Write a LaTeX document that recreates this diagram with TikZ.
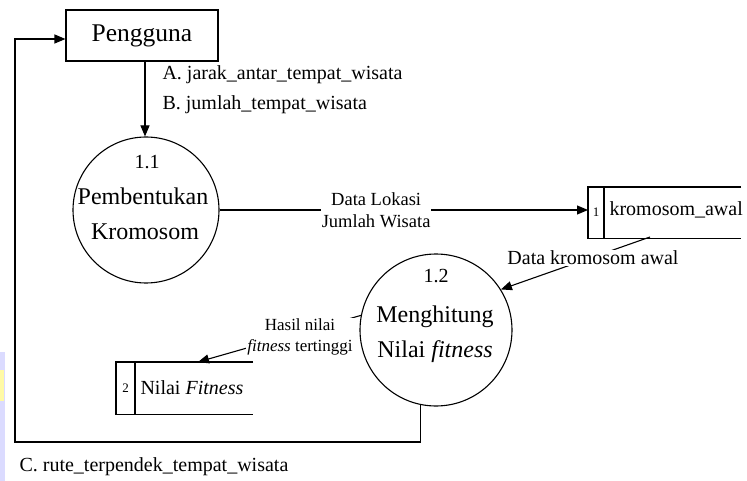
\documentclass[tikz,border=0pt]{standalone}
\usepackage{fontspec}
\setmainfont{Liberation Serif}
\usetikzlibrary{arrows.meta}
\newcommand{\fs}[1]{\fontsize{#1}{#1}\selectfont}
\begin{document}
\begin{tikzpicture}[x=1pt,y=-1pt,
  line width=1.1pt,
  flow/.style={-{Triangle[length=11pt,width=9pt]}},
  ent/.style={draw,minimum width=152pt,minimum height=51pt,inner sep=0pt},
  proc/.style={draw,circle,inner sep=0pt},
  big/.style={font=\fs{24}},
  small/.style={font=\fs{20}},
  lbl/.style={font=\fs{18.5},fill=white,inner sep=1pt,align=center},
  tiny/.style={font=\fs{13}},
  storeframe/.style={inner sep=0pt,anchor=north west}]
\useasboundingbox[fill=white] (0,0) rectangle (747,481);

% faint strip along the left margin
\fill[blue!14] (0,352) rectangle (4.5,481);
\fill[yellow!35] (0,370) rectangle (4,401);

% external entity
\node[ent,font=\fs{25.5}] (peng) at (142,35.5) {Pengguna};

% process 1.1
\node[proc,minimum size=146pt] (c1) at (146,210) {};
\node[font=\fs{20}] (c1n) at (147,162) {1.1};
\node[big] (c1a) at (143,196) {Pembentukan};
\node[big] (c1b) at (145,232) {Kromosom};

% process 1.2
\node[proc,minimum size=152pt] (c2) at (436,330) {};
\node[font=\fs{20}] (c2n) at (436,276) {1.2};
\node[big] (c2a) at (435,317) {Menghitung};
\node[big] (c2b) at (435,352) {Nilai \textit{fitness}};

% data store 1
\node[storeframe,minimum width=152pt,minimum height=50pt] (s1) at (588,187) {};
\draw (s1.north east) -- (s1.north west) -- (s1.south west) -- (s1.south east);
\draw ([xshift=16pt]s1.north west) -- ([xshift=16pt]s1.south west);
\node[tiny] (s1n) at (596,212) {1};
\node[small,anchor=west,inner sep=0pt] (s1t) at (609,210) {kromosom\_awal};

% data store 2
\node[storeframe,minimum width=136pt,minimum height=51pt] (s2) at (116,362) {};
\draw (s2.north east) -- (s2.north west) -- (s2.south west) -- (s2.south east);
\draw ([xshift=19pt]s2.north west) -- ([xshift=19pt]s2.south west);
\node[tiny] (s2n) at (125.5,388) {2};
\node[small,anchor=west,inner sep=0pt] (s2t) at (140,388) {Nilai \textit{Fitness}};

% data flows
\draw[flow] (peng.south -| 145,0) -- (c1.north -| 145,0);
\node[small,anchor=west,inner sep=0pt] (la) at (162,75) {A. jarak\_antar\_tempat\_wisata};
\node[small,anchor=west,inner sep=0pt] (lb) at (162,105) {B. jumlah\_tempat\_wisata};

\draw[flow] (c1.east) -- (c1.east -| s1.west)
  node[lbl,pos=0.425] (l1) {Data Lokasi\\[3pt]Jumlah Wisata};

\coordinate (s1b) at (650,237);
\draw[flow] (s1b) -- (c2.32);
\node[small,fill=white,inner sep=1pt] (l2) at (593,258) {Data kromosom awal};

\coordinate (s2top) at (198,362);
\draw[flow] (c2.169) -- (s2top);
\node[lbl,font=\fs{17}] (l3) at (300,337) {Hasil nilai\\[4pt]\textit{fitness} tertinggi};

\coordinate (corner) at (15,442);
\draw[flow] (c2.258) |- (corner) |- ([yshift=-3.5pt]peng.west);
\node[small,anchor=west,inner sep=0pt] (lc) at (19,467) {C. rute\_terpendek\_tempat\_wisata};
\end{tikzpicture}
\end{document}
